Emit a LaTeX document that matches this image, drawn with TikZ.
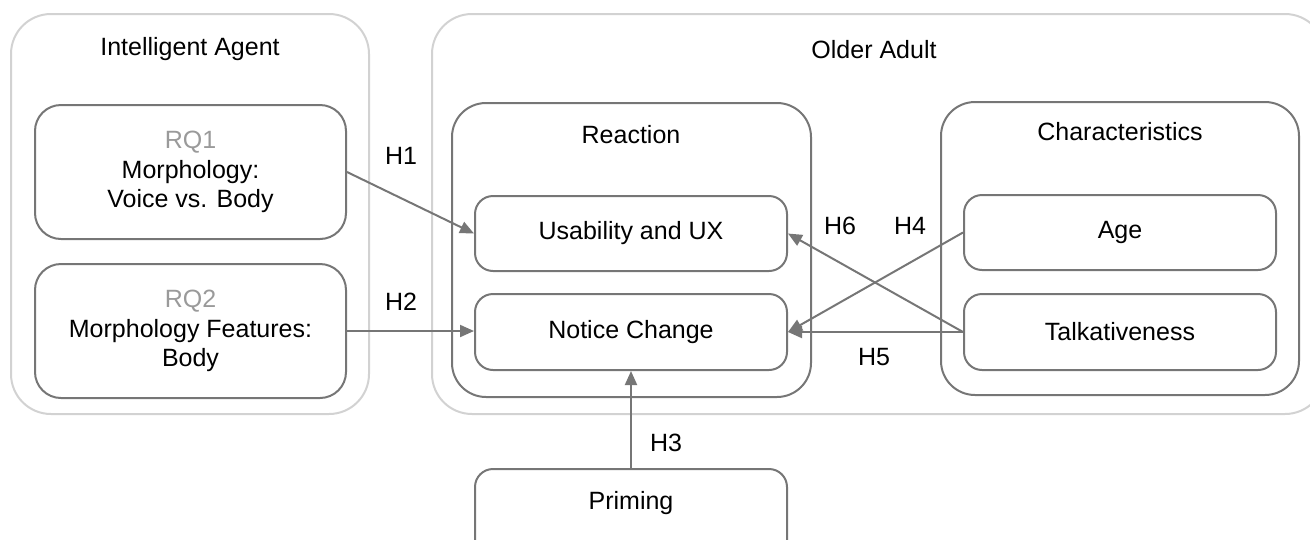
\documentclass[tikz,border=0pt]{standalone}
\usepackage{fontspec}
\setmainfont{Liberation Sans}
\usetikzlibrary{arrows.meta}
\definecolor{boxline}{HTML}{767676}
\definecolor{outerline}{HTML}{D2D2D2}
\definecolor{rqgray}{HTML}{9A9A9A}
\definecolor{txt}{HTML}{000000}
\begin{document}
\begin{tikzpicture}[x=1pt,y=-1pt,
  every node/.style={font=\fontsize{25}{29.5}\selectfont, text=txt},
  outerbox/.style={draw=outerline, line width=2pt, rounded corners=40pt, inner sep=0pt, anchor=center},
  groupbox/.style={draw=boxline, line width=2pt, rounded corners=34pt, inner sep=0pt, anchor=center},
  rqbox/.style={draw=boxline, line width=2pt, rounded corners=26pt, inner sep=0pt, align=center, anchor=center},
  itembox/.style={draw=boxline, line width=2pt, rounded corners=18pt, inner sep=0pt, align=center, anchor=center},
  conn/.style={draw=boxline, line width=2pt, -{Triangle[length=14pt,width=12pt]}},
  hlabel/.style={anchor=center, inner sep=0pt}
]
\useasboundingbox (0,0) rectangle (1310,539);
% outer containers
\node[outerbox, minimum width=358pt, minimum height=400pt] (ia) at (190,214) {};
\node[outerbox, minimum width=893pt, minimum height=400pt] (oa) at (878.5,214) {};
\node[hlabel] (iatitle) at (190,49) {Intelligent Agent};
\node[hlabel] (oatitle) at (874,50) {Older Adult};
% group boxes
\node[groupbox, minimum width=359pt, minimum height=294pt] (reaction) at (631.5,250) {};
\node[groupbox, minimum width=358pt, minimum height=293pt] (charac) at (1120,248.5) {};
\node[hlabel] (reactiontitle) at (631,135) {Reaction};
\node[hlabel] (charactitle) at (1120,132) {Characteristics};
% RQ boxes
\node[rqbox, minimum width=311pt, minimum height=134pt] (rq1) at (190.5,172)
  {\textcolor{rqgray}{RQ1}\\Morphology:\\Voice vs. Body};
\node[rqbox, minimum width=311pt, minimum height=134pt] (rq2) at (190.5,331)
  {\textcolor{rqgray}{RQ2}\\Morphology Features:\\Body};
% items
\node[itembox, minimum width=312pt, minimum height=75pt] (usab) at (631,233.5) {Usability and UX};
\node[itembox, minimum width=312pt, minimum height=76pt] (notice) at (631,332) {Notice Change};
\node[itembox, minimum width=312pt, minimum height=75pt] (age) at (1120,232.5) {Age};
\node[itembox, minimum width=312pt, minimum height=76pt] (talk) at (1120,332) {Talkativeness};
\node[itembox, minimum width=312pt, minimum height=92pt] (priming) at (631,515) {};
\node[hlabel] (primingtext) at (631,503) {Priming};
% connectors
\draw[conn] (rq1.east) -- (usab.west);
\draw[conn] (rq2.east) -- (rq2.east -| notice.west);
\draw[conn] (priming.north) -- (notice.south);
\draw[conn] (age.west) -- (notice.east);
\draw[conn] (talk.west) -- (notice.east);
\draw[conn] (talk.west) -- (usab.east);
% labels
\node[hlabel] (h1) at (401,156) {H1};
\node[hlabel] (h2) at (401,302) {H2};
\node[hlabel] (h3) at (666,443) {H3};
\node[hlabel] (h6) at (840,226) {H6};
\node[hlabel] (h4) at (910,226) {H4};
\node[hlabel] (h5) at (874,357) {H5};
\end{tikzpicture}
\end{document}
